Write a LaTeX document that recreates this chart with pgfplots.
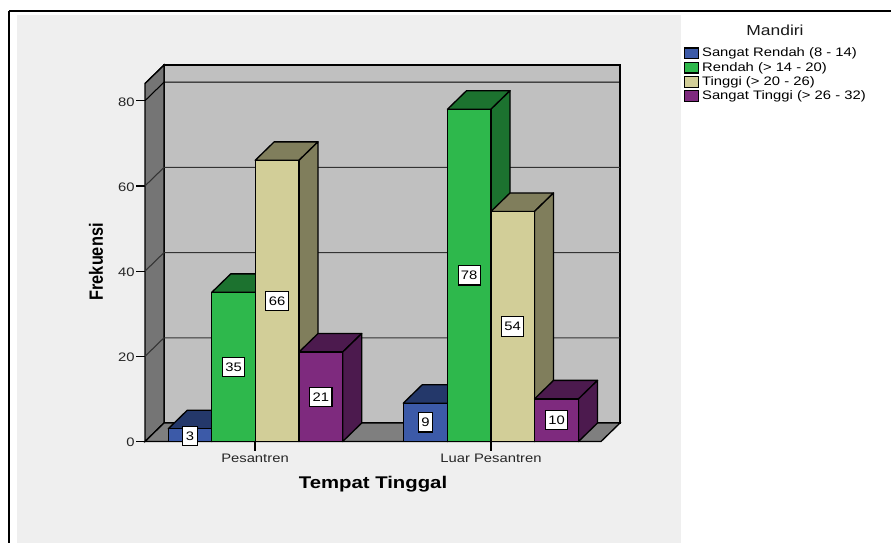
\documentclass[border=0pt]{standalone}
\usepackage{fontspec}
\usepackage{pgfplots}
\pgfplotsset{compat=1.18}
\setmainfont[FakeStretch=1.2]{Liberation Sans}
\newfontfamily\ylabfont[FakeStretch=0.85]{Liberation Sans}
\definecolor{panel}{HTML}{EFEFEF}
\definecolor{backw}{HTML}{C0C0C0}
\definecolor{leftw}{HTML}{757575}
\definecolor{floorc}{HTML}{7F7F7F}
\definecolor{blueF}{HTML}{3C5AA8}\definecolor{blueD}{HTML}{24386A}
\definecolor{greenF}{HTML}{2EB84C}\definecolor{greenD}{HTML}{1C722F}
\definecolor{tanF}{HTML}{D2CE98}\definecolor{tanD}{HTML}{807E5C}
\definecolor{purpF}{HTML}{7E2A7E}\definecolor{purpD}{HTML}{4C1A4E}
% x0, x1, value, front colour, dark colour
\newcommand{\threedbar}[5]{%
  \pgfmathsetmacro{\xa}{#1+19}\pgfmathsetmacro{\xb}{#2+19}%
  \pgfmathsetmacro{\vb}{#3+4.343}\pgfmathsetmacro{\xc}{(#1+#2)/2}%
  \pgfmathsetmacro{\bw}{#2-#1}%
  \edef\doplots{%
  \noexpand\addplot[forget plot,draw=black,line width=1pt,fill=#5,line join=round] coordinates {(#1,#3)(\xa,\vb)(\xb,\vb)(#2,#3)} --cycle;%
  \noexpand\addplot[forget plot,draw=black,line width=1pt,fill=#5,line join=round] coordinates {(#2,0)(\xb,4.343)(\xb,\vb)(#2,#3)} --cycle;%
  \noexpand\addplot[forget plot,ybar,bar shift=0pt,bar width=\bw,draw=black,line width=1pt,fill=#4] coordinates {(\xc,#3)};%
  }\doplots}
\begin{document}
\begin{tikzpicture}[x=0.75pt,y=-0.75pt]
\path[use as bounding box,fill=white] (0,0) rectangle (891,543);
\fill[panel] (17,15) rectangle (681,543);
\draw[black,line width=0.9pt] (9,11) -- (891,11);
\draw[black,line width=1.6pt] (9,10.5) -- (9,543);
\begin{axis}[
  at={(108.75pt,-331.125pt)}, anchor=south west, scale only axis,
  width=356.25pt, height=282.375pt,
  xmin=145, xmax=620, ymin=0, ymax=88.38,
  clip=false,
  axis lines*=left,
  axis line style={draw=none},
  xtick={255,491}, xticklabels={Pesantren,Luar Pesantren},
  ytick={0,20,40,60,80},
  tick align=outside,
  major tick length=6.75pt,
  tick style={black,line width=0.9pt},
  /pgf/number format/assume math mode=true,
  tick label style={font=\fontsize{9.25pt}{11pt}\selectfont,text=black!85},
  yticklabel style={xshift=2.5pt,yshift=-0.8pt},
  xticklabel style={yshift=1pt},
  xlabel={\fontsize{12.7pt}{14pt}\selectfont\bfseries Tempat Tinggal},
  xlabel style={at={(axis description cs:0.48,-0.112)},anchor=center},
  ylabel={\ylabfont\fontsize{14.4pt}{16pt}\selectfont\bfseries Frekuensi},
  ylabel style={at={(axis description cs:-0.103,0.477)},anchor=center},
  legend style={at={(axis cs:684,92.75)},anchor=north west,draw=none,fill=none,
    font=\fontsize{9.25pt}{10pt}\selectfont,row sep=0.7pt,inner sep=0pt,
    nodes={inner ysep=0.9pt}},
  legend cell align=left,
  legend image code/.code={\draw[#1,line width=0.9pt] (0pt,-4pt) rectangle (10.5pt,4pt);},
]
% walls and floor
\addplot[forget plot,draw=black,line width=1pt,fill=backw] coordinates {(164,4.343)(164,88.38)(620,88.38)(620,4.343)} --cycle;
\addplot[forget plot,draw=black,line width=1pt,fill=leftw] coordinates {(145,0)(164,4.343)(164,88.38)(145,84.04)} --cycle;
\addplot[forget plot,draw=black,line width=1pt,fill=floorc] coordinates {(145,0)(164,4.343)(620,4.343)(601,0)} --cycle;
% grid lines
\addplot[forget plot,black,line width=0.8pt] coordinates {(145,84.04)(164,88.38)};
\addplot[forget plot,black,line width=0.8pt] coordinates {(145,80)(164,84.343)(620,84.343)};
\addplot[forget plot,black!80,line width=0.8pt] coordinates {(145,60)(164,64.343)(620,64.343)};
\addplot[forget plot,black!80,line width=0.8pt] coordinates {(145,40)(164,44.343)(620,44.343)};
\addplot[forget plot,black!80,line width=0.8pt] coordinates {(145,20)(164,24.343)(620,24.343)};
% bars
\threedbar{168.3}{211.7}{3}{blueF}{blueD}
\threedbar{211.7}{255.2}{35}{greenF}{greenD}
\threedbar{255.2}{299}{66}{tanF}{tanD}
\threedbar{299}{342.7}{21}{purpF}{purpD}
\threedbar{403.3}{447.5}{9}{blueF}{blueD}
\threedbar{447.5}{491}{78}{greenF}{greenD}
\threedbar{491}{534.5}{54}{tanF}{tanD}
\threedbar{534.5}{578.5}{10}{purpF}{purpD}
% value labels
\addplot[forget plot,draw=none,point meta=explicit symbolic,
  nodes near coords,
  every node near coord/.append style={anchor=center,draw=black,fill=white,line width=0.8pt,
    font=\fontsize{9.25pt}{11pt}\selectfont,text=black,inner xsep=2.2pt,inner ysep=0pt,minimum height=14.5pt}]
  coordinates {(190,1.3)[3](233.5,17.5)[35](277,33)[66](320.8,10.5)[21]
               (425.4,4.5)[9](469.2,39)[78](512.7,27)[54](556.5,5)[10]};
% legend
\addlegendimage{fill=blueF,draw=black}\addlegendentry{Sangat Rendah (8 - 14)}
\addlegendimage{fill=greenF,draw=black}\addlegendentry{Rendah (> 14 - 20)}
\addlegendimage{fill=tanF,draw=black}\addlegendentry{Tinggi (> 20 - 26)}
\addlegendimage{fill=purpF,draw=black}\addlegendentry{Sangat Tinggi (> 26 - 32)}
\end{axis}
\node[font=\fontsize{10.9pt}{12pt}\selectfont,text=black!90] at (775,30.5) {Mandiri};
\end{tikzpicture}
\end{document}
